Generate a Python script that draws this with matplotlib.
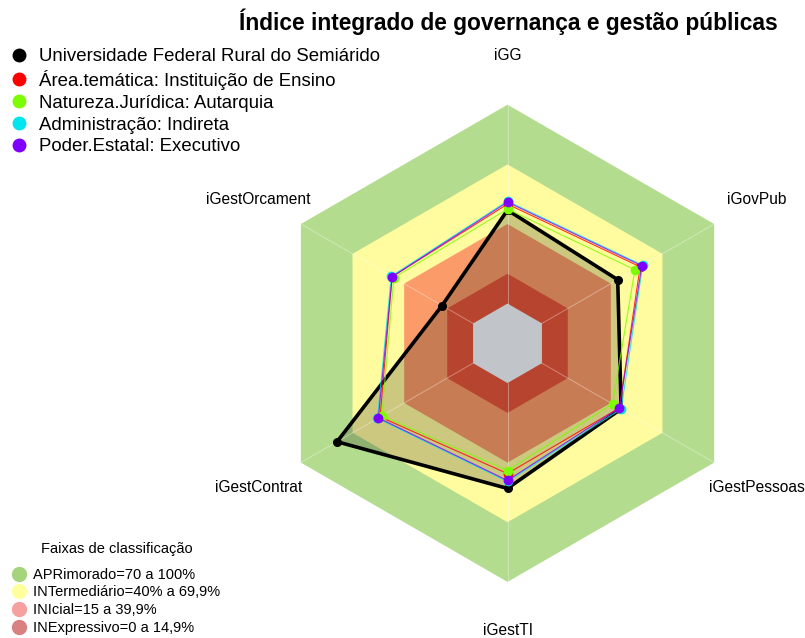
import numpy as np
import matplotlib
matplotlib.use('Agg')
import matplotlib.pyplot as plt
from matplotlib.lines import Line2D

plt.rcParams['font.family'] = ['Liberation Sans', 'DejaVu Sans']

# ---------------- data ----------------
axis_labels = ['iGG', 'iGovPub', 'iGestPessoas', 'iGestTI', 'iGestContrat', 'iGestOrcament']
series_names = ['Universidade Federal Rural do Semiárido',
                'Área.temática: Instituição de Ensino',
                'Natureza.Jurídica: Autarquia',
                'Administração: Indireta',
                'Poder.Estatal: Executivo']
ufersa   = [47, 44, 46, 53, 79, 18]
area     = [50, 57, 45, 45.5, 54, 47]
natureza = [47.5, 54, 41, 44, 53, 46]
admin    = [51.5, 58.5, 46, 49.5, 55.5, 47.5]
poder    = [51, 58, 45, 49, 55, 47]
series_values = [ufersa, area, natureza, admin, poder]
series_colors = ['#000000', '#FF0000', '#7CFC00', '#00E5EE', '#8000FF']

band_limits = [100, 70, 40, 15]
band_colors = ['#B4DC8E', '#FFFB9F', '#FA9B69', '#E5553A']
band_labels = ['APRimorado=70 a 100%', 'INTermediário=40% a 69,9%',
               'INIcial=15 a 39,9%', 'INExpressivo=0 a 14,9%']
band_legend_colors = ['#A5D47D', '#FFFF9E', '#F7A0A0', '#D98080']
band_title = 'Faixas de classificação'
title = 'Índice integrado de governança e gestão públicas'

# ---------------- geometry helpers ----------------
n = len(axis_labels)
theta = np.deg2rad(90 - 60 * np.arange(n))  # clockwise from top
C0 = 1.0 / 6.0


def rad(v):
    return C0 + (1 - C0) * np.asarray(v, dtype=float) / 100.0


def xy(values):
    r = rad(values)
    return r * np.cos(theta), r * np.sin(theta)


W, H = 805, 638
fig = plt.figure(figsize=(W / 100, H / 100), dpi=100)

cx, cy, R = 507.5, 343.3, 238.6
lim = 1.3
aw = 2 * lim * R
ax = fig.add_axes([(cx - aw / 2) / W, ((H - cy) - aw / 2) / H, aw / W, aw / H])
ax.set_xlim(-lim, lim)
ax.set_ylim(-lim, lim)
ax.set_aspect('equal')
ax.axis('off')

# bands
for lv, col in zip(band_limits, band_colors):
    bx, by = xy([lv] * n)
    ax.fill(bx, by, color=col, lw=0, zorder=1)

# filled polygon of the first series
ux, uy = xy(ufersa)
ax.fill(ux, uy, color='black', alpha=0.2, lw=0, zorder=2)

# centre hole
gx, gy = xy([0] * n)
ax.fill(gx, gy, color='#C1C4C8', lw=0, zorder=3)

# spokes
for t in theta:
    ax.plot([C0 * np.cos(t), np.cos(t)], [C0 * np.sin(t), np.sin(t)],
            color='white', alpha=0.35, lw=0.7, zorder=3)

# series lines
for i, (vals, col) in enumerate(zip(series_values, series_colors)):
    px, py = xy(vals)
    px = np.append(px, px[0])
    py = np.append(py, py[0])
    if i == 0:
        ax.plot(px, py, color=col, lw=2.6, marker='o', markersize=5.5, zorder=4)
    else:
        ax.plot(px, py, color=col, lw=0.8, alpha=0.8, zorder=5 + i)
        ax.plot(px[:-1], py[:-1], ls='none', marker='o', markersize=6,
                color=col, zorder=5 + i)

# axis labels
for lab, t in zip(axis_labels, theta):
    ax.text(1.205 * np.cos(t), 1.205 * np.sin(t), lab, ha='center', va='center',
            fontsize=11.2, zorder=10)

# title
fig.text(508 / W, 1 - 22 / H, title, ha='center', va='center',
         fontsize=16.4, fontweight='bold')

# legend of series
handles = [Line2D([], [], ls='none', marker='o', markersize=9, color=c)
           for c in series_colors]
fig.legend(handles, series_names, loc='upper left',
           bbox_to_anchor=(11 / W, 1 - 48 / H), frameon=False,
           fontsize=13.4, borderpad=0, borderaxespad=0, handlelength=0.9,
           handletextpad=0.6, labelspacing=0.26)

# legend of bands
fig.text(117 / W, 1 - 549 / H, band_title, ha='center', va='center',
         fontsize=10.5)
bh = [Line2D([], [], ls='none', marker='o', markersize=10, color=c)
      for c in band_legend_colors]
fig.legend(bh, band_labels, loc='lower left',
           bbox_to_anchor=(11 / W, 3 / H), frameon=False,
           fontsize=10.5, borderpad=0, borderaxespad=0, handlelength=1.05,
           handletextpad=0.45, labelspacing=0.26)

fig.savefig('out.png', dpi=100)
